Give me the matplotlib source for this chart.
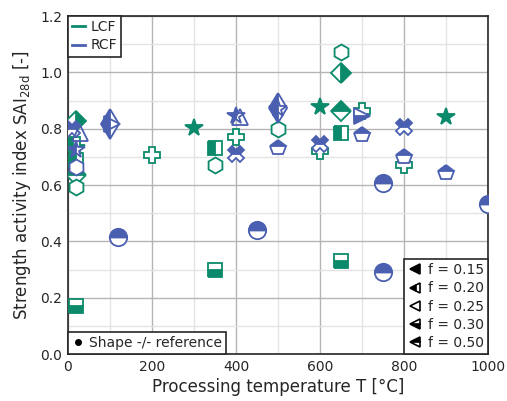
import matplotlib
matplotlib.use("Agg")
import matplotlib.pyplot as plt
from matplotlib.lines import Line2D
from matplotlib.ticker import MultipleLocator

# ----- Data -----
# LCF series
lcf_temp = [650, 650, 600, 650, 700, 650, 500, 400, 350, 350, 200, 300, 600, 800, 900,
            350, 650, 20, 20, 20, 20, 20, 20, 12]
lcf_sai = [1.071, 0.997, 0.877, 0.863, 0.863, 0.784, 0.800, 0.771, 0.731, 0.670, 0.705, 0.804,
           0.721, 0.670, 0.842, 0.297, 0.329, 0.170, 0.828, 0.733, 0.690, 0.634, 0.592, 0.745]
lcf_shape = ['h', 'D', '*', 'D', 'P', 's', 'h', 'P', 's', 'h', 'P', '*', 'P', 'P', '*',
             's', 's', 's', 'D', '*', 's', 'D', 'h', 's']
lcf_fill = ['none', 'right', 'full', 'top', 'none', 'left', 'none', 'none', 'left', 'none',
            'none', 'full', 'none', 'none', 'full', 'bottom', 'bottom', 'bottom', 'right',
            'full', 'left', 'top', 'none', 'left']

# RCF series ('outline' = open marker drawn over another one)
rcf_temp = [100, 105, 400, 410, 500, 500, 120, 450, 750, 750, 1000, 400, 600, 800,
            500, 700, 800, 900, 700, 10, 28, 20, 20]
rcf_sai = [0.816, 0.815, 0.845, 0.840, 0.875, 0.870, 0.415, 0.439, 0.607, 0.291, 0.533,
           0.710, 0.747, 0.806, 0.730, 0.776, 0.700, 0.642, 0.845, 0.800, 0.785, 0.724, 0.663]
rcf_shape = ['d', '>', '*', '^', 'd', '*', 'o', 'o', 'o', 'o', 'o', 'X', 'X', 'X',
             'p', 'p', 'p', 'p', '>', 'X', '^', '*', 'h']
rcf_fill = ['left', 'outline', 'left', 'outline', 'left', 'outline', 'top', 'top', 'top', 'top',
            'top', 'top', 'top', 'top', 'top', 'top', 'top', 'top', 'bottom', 'top', 'outline',
            'left', 'none']

f_values = ['0.15', '0.20', '0.25', '0.30', '0.50']
f_fills = ['full', 'left', 'none', 'bottom', 'top']

green = '#0b8a6b'
blue = '#4a5fb0'
txt = '#262626'
sizes = {'o': 12.5, 's': 9.5, 'h': 11.5, 'p': 11.5, 'P': 11, 'X': 11, 'D': 10.5,
         'd': 15, '*': 13, '>': 11, '^': 11}

plt.rcParams['font.family'] = 'DejaVu Sans'

fig = plt.figure(figsize=(5.07, 4.01), dpi=100)
ax = fig.add_axes([0.134, 0.117, 0.8285, 0.843])


def draw(temps, sais, shapes, fills, color):
    for t, s, m, fs in zip(temps, sais, shapes, fills):
        if fs == 'none':
            ax.plot(t, s, marker=m, ms=sizes[m], color=color, mfc='white', mec=color,
                    mew=1.3, ls='none', zorder=3)
        elif fs == 'outline':
            ax.plot(t, s, marker=m, ms=sizes[m], color=color, mfc='none', mec=color,
                    mew=1.3, ls='none', zorder=3)
        else:
            ax.plot(t, s, marker=m, ms=sizes[m], color=color, mfc=color, mec=color,
                    fillstyle=fs, markerfacecoloralt='white', mew=1.3, ls='none', zorder=3)


draw(lcf_temp, lcf_sai, lcf_shape, lcf_fill, green)
draw(rcf_temp, rcf_sai, rcf_shape, rcf_fill, blue)

ax.set_xlim(0, 1000)
ax.set_ylim(0, 1.2)
ax.xaxis.set_major_locator(MultipleLocator(200))
ax.xaxis.set_minor_locator(MultipleLocator(100))
ax.yaxis.set_major_locator(MultipleLocator(0.2))
ax.yaxis.set_minor_locator(MultipleLocator(0.1))
ax.grid(which='major', color='#b5b5b5', lw=1.0, zorder=0)
ax.grid(which='minor', color='#e4e4e4', lw=1.0, zorder=0)
ax.set_axisbelow(True)
ax.tick_params(which='both', length=0, labelsize=10, colors=txt, pad=4)
for sp in ax.spines.values():
    sp.set_color(txt)
    sp.set_linewidth(1.2)

ax.set_xlabel('Processing temperature T [°C]', fontsize=12, color=txt, labelpad=3)
ax.set_ylabel('Strength activity index SAI$_\\mathregular{28d}$ [-]', fontsize=12, color=txt,
              labelpad=5)

legend_kw = dict(fancybox=False, framealpha=1, borderaxespad=0, fontsize=10,
                 labelcolor=txt, handletextpad=0.4, borderpad=0.3, labelspacing=0.3)

# fibre legend
fib_handles = [Line2D([], [], color=green, lw=2), Line2D([], [], color=blue, lw=2)]
leg1 = ax.legend(fib_handles, ['LCF', 'RCF'], loc='upper left', handlelength=0.9, **legend_kw)
leg1.get_frame().set_edgecolor(txt)
leg1.get_frame().set_linewidth(1.2)
ax.add_artist(leg1)

# shape legend
shape_handles = [Line2D([], [], marker='.', color='black', ls='none', ms=8)]
leg2 = ax.legend(shape_handles, ['Shape -/- reference'], loc='lower left', handlelength=0.8,
                 **legend_kw)
leg2.get_frame().set_edgecolor(txt)
leg2.get_frame().set_linewidth(1.2)
ax.add_artist(leg2)

# fraction legend
f_handles = [Line2D([], [], marker='<', color='black', mfc='black', mec='black',
                    fillstyle=fs, markerfacecoloralt='white', ls='none', ms=7, mew=1.2)
             for fs in f_fills]
leg3 = ax.legend(f_handles, ['f = ' + v for v in f_values], loc='lower right',
                 handlelength=1.0, **legend_kw)
leg3.get_frame().set_edgecolor(txt)
leg3.get_frame().set_linewidth(1.2)

fig.savefig('out.png', dpi=100)
